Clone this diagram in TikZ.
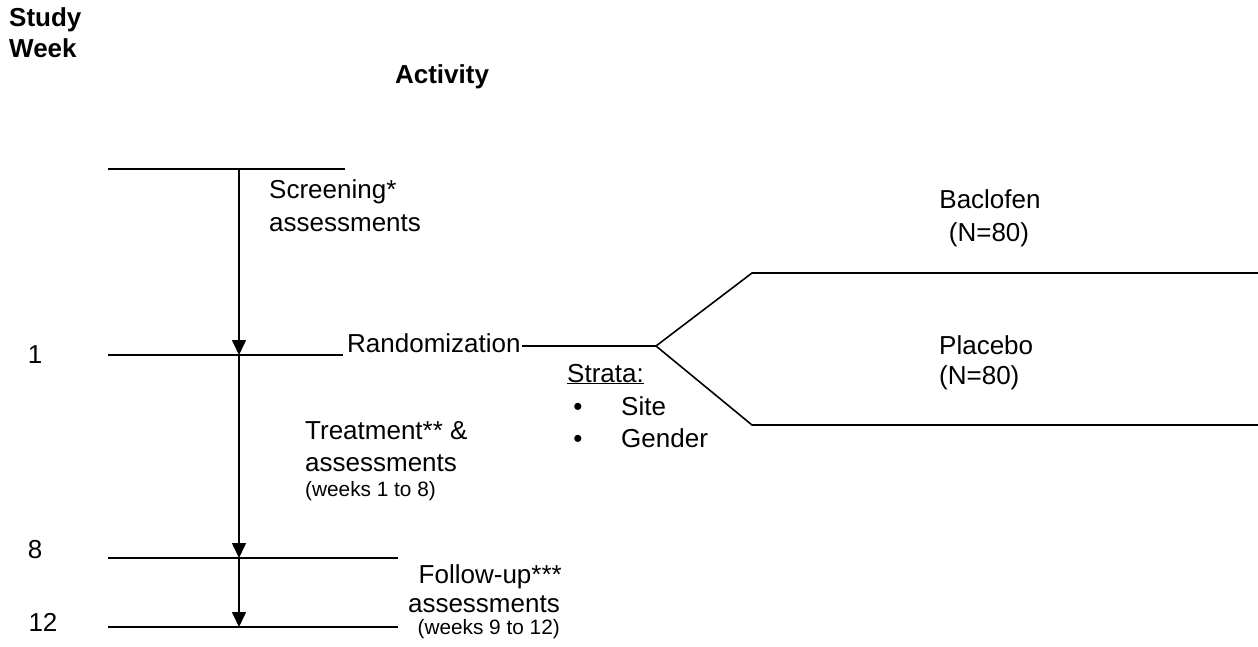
\documentclass[tikz,border=0pt]{standalone}
\usepackage{fontspec}
\setmainfont{Liberation Sans}
\usetikzlibrary{arrows.meta}
\begin{document}
\begin{tikzpicture}[x=1pt,y=-1pt,
  txt/.style={inner sep=0pt, font=\fontsize{26}{30}\selectfont},
  small/.style={inner sep=0pt, font=\fontsize{20.8}{24}\selectfont},
  hd/.style={inner sep=0pt, font=\fontsize{26}{30}\selectfont\bfseries},
  ln/.style={line width=1.6pt},
  arr/.style={line width=1.6pt, -{Triangle[length=15pt,width=14pt]}}]
\useasboundingbox (0,0) rectangle (1258,647);
% headings
\node[hd, anchor=base west] (study) at (9,27) {Study};
\node[hd, anchor=base west] (week) at (9,58) {Week};
\node[hd, anchor=base] (activity) at (442,84) {Activity};
% week numbers
\node[txt, anchor=base] (w1) at (35,363) {1};
\node[txt, anchor=base] (w8) at (35,558) {8};
\node[txt, anchor=base] (w12) at (43,631) {12};
% timeline lines
\coordinate (t0l) at (108,169); \coordinate (t0r) at (345,169);
\coordinate (t1l) at (108,355); \coordinate (t1r) at (343,355);
\coordinate (t8l) at (108,558); \coordinate (t8r) at (398,558);
\coordinate (t12l) at (108,627); \coordinate (t12r) at (398,627);
\draw[ln] (t0l) -- (t0r);
\draw[ln] (t1l) -- (t1r);
\draw[ln] (t8l) -- (t8r);
\draw[ln] (t12l) -- (t12r);
\coordinate (a0) at (239,169);
\coordinate (a1) at (239,355);
\coordinate (a8) at (239,558);
\coordinate (a12) at (239,627);
\draw[arr] (a0) -- (a1);
\draw[arr] (a1) -- (a8);
\draw[arr] (a8) -- (a12);
% activity labels
\node[txt, anchor=base west] (scr1) at (269,199) {Screening*};
\node[txt, anchor=base west] (scr2) at (269,232) {assessments};
\node[txt, anchor=base west] (tr1) at (305,439) {Treatment** \&};
\node[txt, anchor=base west] (tr2) at (305,471) {assessments};
\node[small, anchor=base west] (tr3) at (305,496) {(weeks 1 to 8)};
\node[txt, anchor=base east] (fu1) at (562,583) {Follow-up***};
\node[txt, anchor=base east] (fu2) at (560,612) {assessments};
\node[small, anchor=base east] (fu3) at (560,634) {(weeks 9 to 12)};
% randomization
\node[txt, anchor=base west] (rand) at (347,352) {Randomization};
\coordinate (split) at (656,346);
\coordinate (upk) at (752,273); \coordinate (upe) at (1258,273);
\coordinate (dnk) at (752,425); \coordinate (dne) at (1258,425);
\draw[ln] ([xshift=1pt]rand.east |- split) -- (split);
\draw[ln] (split) -- (upk) -- (upe);
\draw[ln] (split) -- (dnk) -- (dne);
% strata
\node[txt, anchor=base west] (strata) at (567,382) {\underline{Strata:}};
\node[txt, anchor=base] (b1) at (578,415) {•};
\node[txt, anchor=base west] (site) at (621,415) {Site};
\node[txt, anchor=base] (b2) at (578,447) {•};
\node[txt, anchor=base west] (gender) at (621,447) {Gender};
% arms
\node[txt, anchor=base] (bac1) at (990,209) {Baclofen};
\node[txt, anchor=base] (bac2) at (989,241) {(N=80)};
\node[txt, anchor=base west] (pla1) at (939,354) {Placebo};
\node[txt, anchor=base west] (pla2) at (939,384) {(N=80)};
\end{tikzpicture}
\end{document}
